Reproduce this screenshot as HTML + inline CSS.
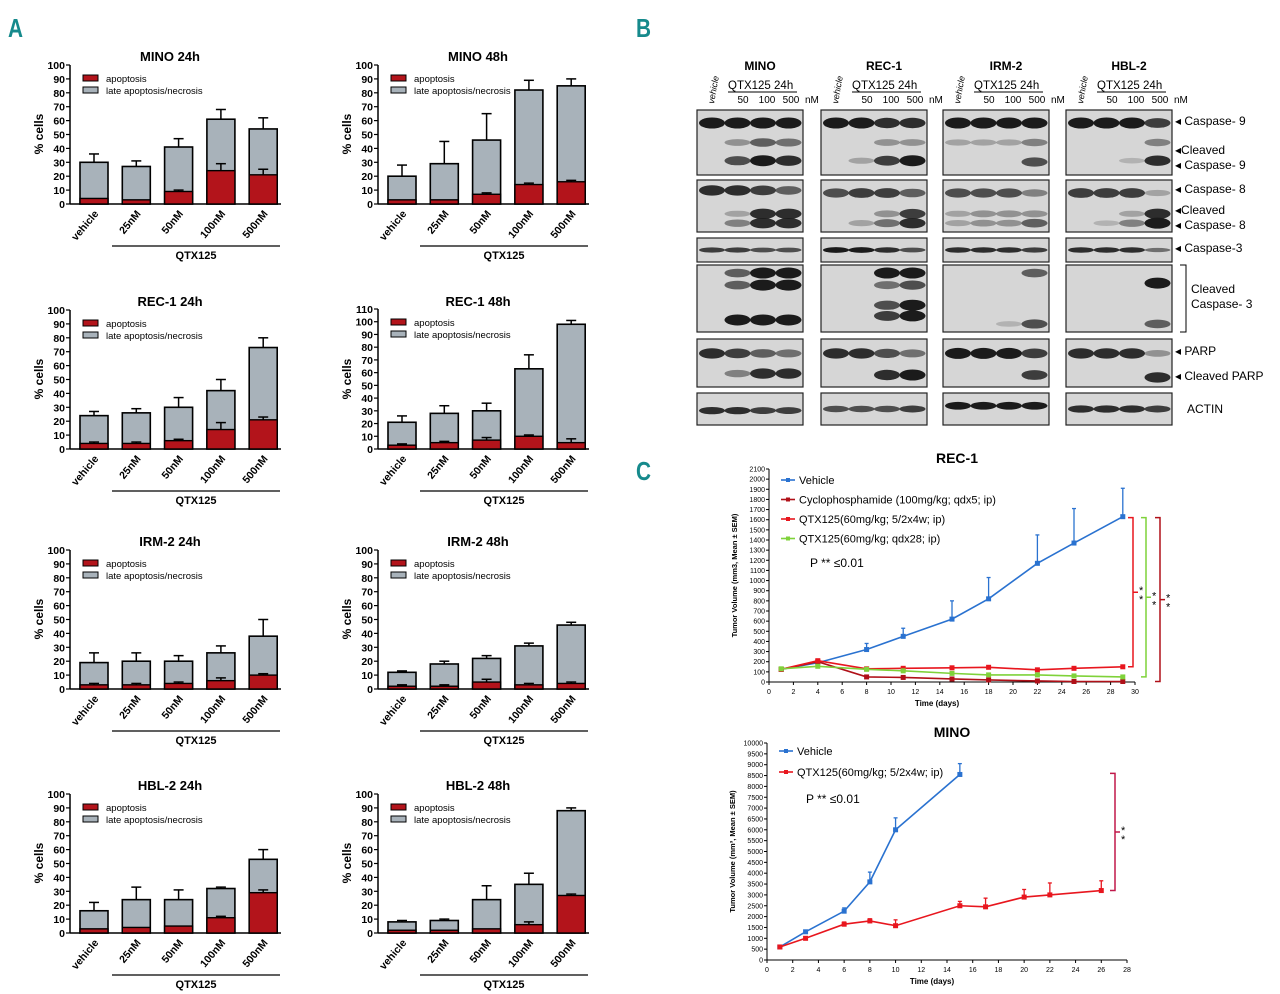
<!DOCTYPE html>
<html><head><meta charset="utf-8"><style>
html,body{margin:0;padding:0;background:#fff;width:1280px;height:994px;overflow:hidden}
svg{display:block;font-family:"Liberation Sans",sans-serif}
</style></head><body>
<svg id="fig" width="1280" height="994" viewBox="0 0 1280 994" xmlns="http://www.w3.org/2000/svg">
<text x="10" y="37" font-size="26" font-weight="bold" fill="#168a8c" transform="scale(0.8,1)">A</text>
<text x="795" y="37" font-size="26" font-weight="bold" fill="#168a8c" transform="scale(0.8,1)">B</text>
<text x="795" y="480" font-size="26" font-weight="bold" fill="#168a8c" transform="scale(0.8,1)">C</text>
<g id="barG"></g><g id="blotG"></g><g id="lineG"></g>
</svg>
<script>
// ---------- Panel A data ----------
const barCategories = ["vehicle","25nM","50nM","100nM","500nM"];
const chartTitles = ["MINO 24h","MINO 48h","REC-1 24h","REC-1 48h","IRM-2 24h","IRM-2 48h","HBL-2 24h","HBL-2 48h"];
const chartMax = [100,100,100,110,100,100,100,100];
const totalVals = [[30,27,41,61,54],[20,29,46,82,85],[24,26,30,42,73],[21,28,30,63,98],[19,20,20,26,38],[12,18,22,31,46],[16,24,24,32,53],[8,9,24,35,88]];
const apopVals = [[4,3,9,24,21],[3,3,7,14,16],[4,4,6,14,21],[3,5,7,10,5],[3,3,4,6,10],[2,2,5,3,4],[3,4,5,11,29],[2,2,3,6,27]];
const totalErr = [[36,31,47,68,62],[28,45,65,89,90],[27,29,37,50,80],[26,34,36,74,101],[26,26,24,31,50],[13,20,24,33,48],[22,33,31,33,60],[9,10,34,43,90]];
const apopErr = [[4,3,10,29,25],[3,3,8,15,17],[5,5,7,19,23],[4,6,9,11,8],[4,4,5,8,11],[3,3,7,4,5],[3,4,5,12,31],[2,2,3,8,28]];

const NS="http://www.w3.org/2000/svg";
function mk(parent,tag,attrs,txt){const e=document.createElementNS(NS,tag);for(const k in attrs)e.setAttribute(k,attrs[k]);if(txt!==undefined)e.textContent=txt;parent.appendChild(e);return e;}

const barG=document.getElementById('barG');
const colX=[70,378], rowY0=[204,449,689,933];
chartTitles.forEach((title,ci)=>{
  const ax=colX[ci%2], y0=rowY0[Math.floor(ci/2)], max=chartMax[ci];
  const h=chartMax[ci]===110?140:139;
  const ys=v=>y0-v/max*h;
  const g=mk(barG,'g',{});
  
  
  const t=mk(g,'text',{x:ax+100,y:y0-143,'font-size':13,'font-weight':'bold','text-anchor':'middle'},title);
  
  mk(g,'line',{x1:ax,y1:y0,x2:ax,y2:ys(max),stroke:'#000','stroke-width':1.5});
  mk(g,'line',{x1:ax,y1:y0,x2:ax+211,y2:y0,stroke:'#000','stroke-width':1.5});
  for(let v=0;v<=max;v+=10){
    mk(g,'line',{x1:ax-4,y1:ys(v),x2:ax,y2:ys(v),stroke:'#000','stroke-width':1.2});
    const tl=mk(g,'text',{x:ax-5,y:ys(v)+4,'font-size':10.5,'font-weight':'bold','text-anchor':'end'},v);
    
  }
  const yl=mk(g,'text',{x:0,y:0,'font-size':12,'font-weight':'bold','text-anchor':'middle',transform:`translate(${ax-27},${y0-70}) rotate(-90)`},'% cells');
  
  const lg=mk(g,'g',{});
  mk(lg,'rect',{x:ax+13,y:ys(max)+10,width:15,height:6,fill:'#b3141b',stroke:'#000','stroke-width':1});
  mk(lg,'text',{x:ax+36,y:ys(max)+17,'font-size':9.5},'apoptosis');
  mk(lg,'rect',{x:ax+13,y:ys(max)+22,width:15,height:6,fill:'#a8b2ba',stroke:'#000','stroke-width':1});
  mk(lg,'text',{x:ax+36,y:ys(max)+29,'font-size':9.5},'late apoptosis/necrosis');
  barCategories.forEach((cat,i)=>{
    const bx=ax+10+i*42.3, bw=28;
    const tot=totalVals[ci][i], ap=apopVals[ci][i];
    const bt=mk(g,'rect',{x:bx,y:ys(tot),width:bw,height:y0-ys(tot),fill:'#a8b2ba',stroke:'#000','stroke-width':1.6});
    
    const ba=mk(g,'rect',{x:bx,y:ys(ap),width:bw,height:y0-ys(ap),fill:'#b3141b',stroke:'#000','stroke-width':1.4});
    
    const cx=bx+bw/2;
    [[tot,totalErr[ci][i]],[ap,apopErr[ci][i]]].forEach(([v,e])=>{
      if(e>v){mk(g,'line',{x1:cx,y1:ys(v),x2:cx,y2:ys(e),stroke:'#000','stroke-width':1.5});
      mk(g,'line',{x1:cx-5,y1:ys(e),x2:cx+5,y2:ys(e),stroke:'#000','stroke-width':1.5});}
    });
    const xl=mk(g,'text',{x:0,y:0,'font-size':10.5,'font-weight':'bold','text-anchor':'end',transform:`translate(${cx+5},${y0+10}) rotate(-50)`},cat);
    
  });
  mk(g,'line',{x1:ax+42,y1:y0+42,x2:ax+210,y2:y0+42,stroke:'#000','stroke-width':1.3});
  const q=mk(g,'text',{x:ax+126,y:y0+55,'font-size':11,'font-weight':'bold','text-anchor':'middle'},'QTX125');
  
});

// ---------- Panel B (western blot) ----------
const blotCells=["MINO","REC-1","IRM-2","HBL-2"];
const blotX=[697,821,943,1066];
const blotRows=[[110,175],[180,232],[238,262],[265,332],[339,387],[393,425]];
const blotBands=[
 [[[.2,[1,1,1,1]],[.5,[0,.3,.6,.5]],[.78,[0,.7,1,.9]]],[[.2,[.9,.9,.8,.6]],[.65,[0,.2,.9,.9]],[.83,[0,.4,.9,.9]]],[[.5,[.8,.8,.7,.7]]],[[.12,[0,.6,1,1]],[.3,[0,.6,1,1]],[.82,[0,1,1,1]]],[[.3,[.9,.8,.6,.5]],[.72,[0,.4,.9,.9]]],[[.55,[.9,.9,.8,.8]]]],
 [[[.2,[1,1,.9,.9]],[.5,[0,0,.3,.3]],[.78,[0,.2,.8,1]]],[[.25,[.7,.8,.8,.6]],[.65,[0,0,.3,.8]],[.83,[0,.2,.5,.9]]],[[.5,[1,1,.9,.7]]],[[.12,[0,0,1,1]],[.3,[0,0,.5,.7]],[.6,[0,0,.7,1]],[.76,[0,0,.8,1]]],[[.3,[.9,.9,.7,.5]],[.75,[0,0,.9,1]]],[[.5,[.7,.7,.7,.8]]]],
 [[[.2,[1,1,1,1]],[.5,[.2,.2,.2,.4]],[.8,[0,0,0,.7]]],[[.25,[.7,.7,.7,.4]],[.65,[.2,.3,.3,.3]],[.83,[.2,.3,.3,.6]]],[[.5,[.9,.9,.9,.8]]]  ,[[.12,[0,0,0,.6]],[.88,[0,0,.1,.7]]],[[.3,[1,1,1,.8]],[.75,[0,0,0,.8]]],[[.4,[1,1,1,1]]]],
 [[[.2,[1,1,1,.8]],[.5,[0,0,0,.4]],[.78,[0,0,.1,.9]]],[[.25,[.8,.8,.8,.2]],[.65,[0,0,.2,.9]],[.83,[0,.1,.4,1]]],[[.5,[.9,.9,.9,.5]]],[[.27,[0,0,0,1]],[.88,[0,0,0,.6]]],[[.3,[.9,.9,.9,.3]],[.8,[0,0,0,.9]]],[[.5,[.9,.9,.9,.8]]]]
];
const blotG=document.getElementById('blotG');
blotCells.forEach((cell,c)=>{
  const x0=blotX[c], w=106;
  const g=mk(blotG,'g',{});
  mk(g,'text',{x:x0+63,y:70,'font-size':12,'font-weight':'bold','text-anchor':'middle'},cell);
  mk(g,'text',{x:0,y:0,'font-size':9,'font-style':'italic',transform:`translate(${x0+17},${104}) rotate(-80)`},'vehicle');
  mk(g,'text',{x:x0+31,y:89,'font-size':11.5},'QTX125  24h');
  mk(g,'line',{x1:x0+31,y1:92,x2:x0+100,y2:92,stroke:'#000','stroke-width':1});
  [['50',0],['100',1],['500',2]].forEach(([t,i])=>mk(g,'text',{x:x0+46+i*24,y:103,'font-size':10,'text-anchor':'middle'},t));
  mk(g,'text',{x:x0+108,y:103,'font-size':10},'nM');
  blotRows.forEach((r,ri)=>{
    const h=r[1]-r[0];
    mk(g,'rect',{x:x0,y:r[0],width:w,height:h,fill:'#d6d6d6',stroke:'#222','stroke-width':1.2});
    blotBands[c][ri].forEach(([yf,lanes])=>{
      lanes.forEach((s,li)=>{ if(s<=0.05)return;
        const bh=Math.max(3,Math.min(h*0.22,10))*(0.5+s*0.6);
        mk(g,'ellipse',{cx:x0+15+li*25.5,cy:r[0]+h*yf,rx:13,ry:bh/2,fill:'#1b1b1b','fill-opacity':Math.min(1,0.1+s*0.9)});
      });
    });
  });
});
const labs=[["◂ Caspase- 9",125],["◂Cleaved",154],["◂ Caspase- 9",169],["◂ Caspase- 8",193],["◂Cleaved",214],["◂ Caspase- 8",229],["◂ Caspase-3",252],["Cleaved",293],["Caspase- 3",308],["◂ PARP",355],["◂ Cleaved PARP",380],["ACTIN",413]];
labs.forEach(([t,y],i)=>{const e=mk(blotG,'text',{x:(i===7||i===8)?1191:(i===11?1187:1175),y:y,'font-size':12},t);});
mk(blotG,'path',{d:'M1180 265 H1186 V332 H1180',fill:'none',stroke:'#000','stroke-width':1});

// ---------- Panel C data ----------
const recDays=[1,4,8,11,15,18,22,25,29];
const recVehicle=[125,190,320,450,620,820,1170,1370,1630];
const recVehicleErr=[130,200,380,530,800,1030,1450,1710,1910];
const recCyclo=[125,200,50,45,30,20,10,5,5];
const recQtx52=[125,210,130,135,140,145,120,135,150];
const recQtx28=[130,155,125,110,85,70,70,60,50];
const minoVehDays=[1,3,6,8,10,15];
const minoVehicle=[600,1300,2250,3600,6000,8550];
const minoVehErr=[650,1350,2400,4050,6550,9050];
const minoQtxDays=[1,3,6,8,10,15,17,20,22,26];
const minoQtx=[600,1000,1650,1800,1580,2500,2450,2900,3000,3200];
const minoQtxErr=[650,1050,1750,1900,1850,2700,2850,3250,3550,3650];

const lineG=document.getElementById('lineG');
function lineChart(opt){
  const g=mk(lineG,'g',{});
  const xs=v=>opt.x0+(v/opt.xMax)*(opt.x1-opt.x0);
  const ys=v=>opt.y0-(v/opt.yMax)*(opt.y0-opt.y1);
  mk(g,'text',{x:xs(opt.xMax/2)+5,y:opt.y1-6,'font-size':14,'font-weight':'bold','text-anchor':'middle'},opt.title);
  mk(g,'line',{x1:opt.x0,y1:opt.y0,x2:opt.x0,y2:opt.y1,stroke:'#000','stroke-width':1});
  mk(g,'line',{x1:opt.x0,y1:opt.y0,x2:opt.x1,y2:opt.y0,stroke:'#000','stroke-width':1});
  for(let v=0;v<=opt.yMax;v+=opt.yStep){mk(g,'line',{x1:opt.x0-3,y1:ys(v),x2:opt.x0,y2:ys(v),stroke:'#000'});
    const t=mk(g,'text',{x:opt.x0-4,y:ys(v)+2.5,'font-size':7,'text-anchor':'end'},v);}
  for(let v=0;v<=opt.xMax;v+=2){mk(g,'line',{x1:xs(v),y1:opt.y0,x2:xs(v),y2:opt.y0+3,stroke:'#000'});
    const t=mk(g,'text',{x:xs(v),y:opt.y0+12,'font-size':7,'text-anchor':'middle'},v);}
  mk(g,'text',{x:(opt.x0+opt.x1)/2-15,y:opt.y0+24,'font-size':8,'font-weight':'bold','text-anchor':'middle'},'Time (days)');
  mk(g,'text',{x:0,y:0,'font-size':7.5,'font-weight':'bold','text-anchor':'middle',transform:`translate(${opt.x0-32},${(opt.y0+opt.y1)/2}) rotate(-90)`},opt.ylabel);
  opt.series.forEach((s,si)=>{
    const sg=mk(g,'g',{});
    if(s.err)s.x.forEach((d,i)=>{mk(sg,'line',{x1:xs(d),y1:ys(s.y[i]),x2:xs(d),y2:ys(s.err[i]),stroke:s.color,'stroke-width':1.3});
      mk(sg,'line',{x1:xs(d)-2,y1:ys(s.err[i]),x2:xs(d)+2,y2:ys(s.err[i]),stroke:s.color,'stroke-width':1.3});});
    mk(sg,'polyline',{points:s.x.map((d,i)=>xs(d)+','+ys(s.y[i])).join(' '),fill:'none',stroke:s.color,'stroke-width':1.6});
    s.x.forEach((d,i)=>mk(sg,'rect',{x:xs(d)-2.5,y:ys(s.y[i])-2.5,width:5,height:5,fill:s.color}));
    const ly=opt.legY+si*opt.legStep;
    mk(sg,'line',{x1:opt.x0+12,y1:ly,x2:opt.x0+26,y2:ly,stroke:s.color,'stroke-width':1.6});
    mk(sg,'rect',{x:opt.x0+17,y:ly-2,width:4,height:4,fill:s.color});
    mk(sg,'text',{x:opt.x0+30,y:ly+4,'font-size':opt.legFont},s.label);
  });
  mk(g,'text',{x:opt.pX,y:opt.pY,'font-size':12},'P ** ≤0.01');
  return {xs,ys,g};
}
const rec=lineChart({name:'rec1-tumor-chart',title:'REC-1',x0:769,x1:1135,y0:682,y1:469,xMax:30,yMax:2100,yStep:100,
  ylabel:'Tumor Volume (mm3, Mean ± SEM)',legY:480,legStep:19.5,legFont:11,pX:810,pY:567,
  series:[{key:'vehicle',label:'Vehicle',x:recDays,y:recVehicle,err:recVehicleErr,color:'#2a72d0'},
   {key:'cyclophosphamide',label:'Cyclophosphamide (100mg/kg; qdx5; ip)',x:recDays,y:recCyclo,color:'#b01018'},
   {key:'qtx125-5-2x4w',label:'QTX125(60mg/kg; 5/2x4w; ip)',x:recDays,y:recQtx52,color:'#e8161e'},
   {key:'qtx125-qdx28',label:'QTX125(60mg/kg; qdx28; ip)',x:recDays,y:recQtx28,color:'#7fd23a'}]});
function bracket(g,x,yTop,yBot,color){
  mk(g,'path',{d:`M${x-5} ${yTop} H${x} V${yBot} H${x-5} M${x} ${(yTop+yBot)/2} H${x+5}`,fill:'none',stroke:color,'stroke-width':1.5});
  mk(g,'text',{x:x+6,y:(yTop+yBot)/2+2,'font-size':11},'*');
  mk(g,'text',{x:x+6,y:(yTop+yBot)/2+11,'font-size':11},'*');
}
bracket(rec.g,1133,rec.ys(1620),rec.ys(150),'#e8161e');
bracket(rec.g,1146,rec.ys(1620),rec.ys(50),'#7fd23a');
bracket(rec.g,1160,rec.ys(1620),rec.ys(5),'#b01018');
const mino=lineChart({name:'mino-tumor-chart',title:'MINO',x0:767,x1:1127,y0:960,y1:743,xMax:28,yMax:10000,yStep:500,
  ylabel:'Tumor Volume (mm³, Mean ± SEM)',legY:751,legStep:21,legFont:11,pX:806,pY:803,
  series:[{key:'vehicle',label:'Vehicle',x:minoVehDays,y:minoVehicle,err:minoVehErr,color:'#2a72d0'},
   {key:'qtx125',label:'QTX125(60mg/kg; 5/2x4w; ip)',x:minoQtxDays,y:minoQtx,err:minoQtxErr,color:'#e8161e'}]});
bracket(mino.g,1115,mino.ys(8600),mino.ys(3200),'#c0184a');
</script>
</body></html>
